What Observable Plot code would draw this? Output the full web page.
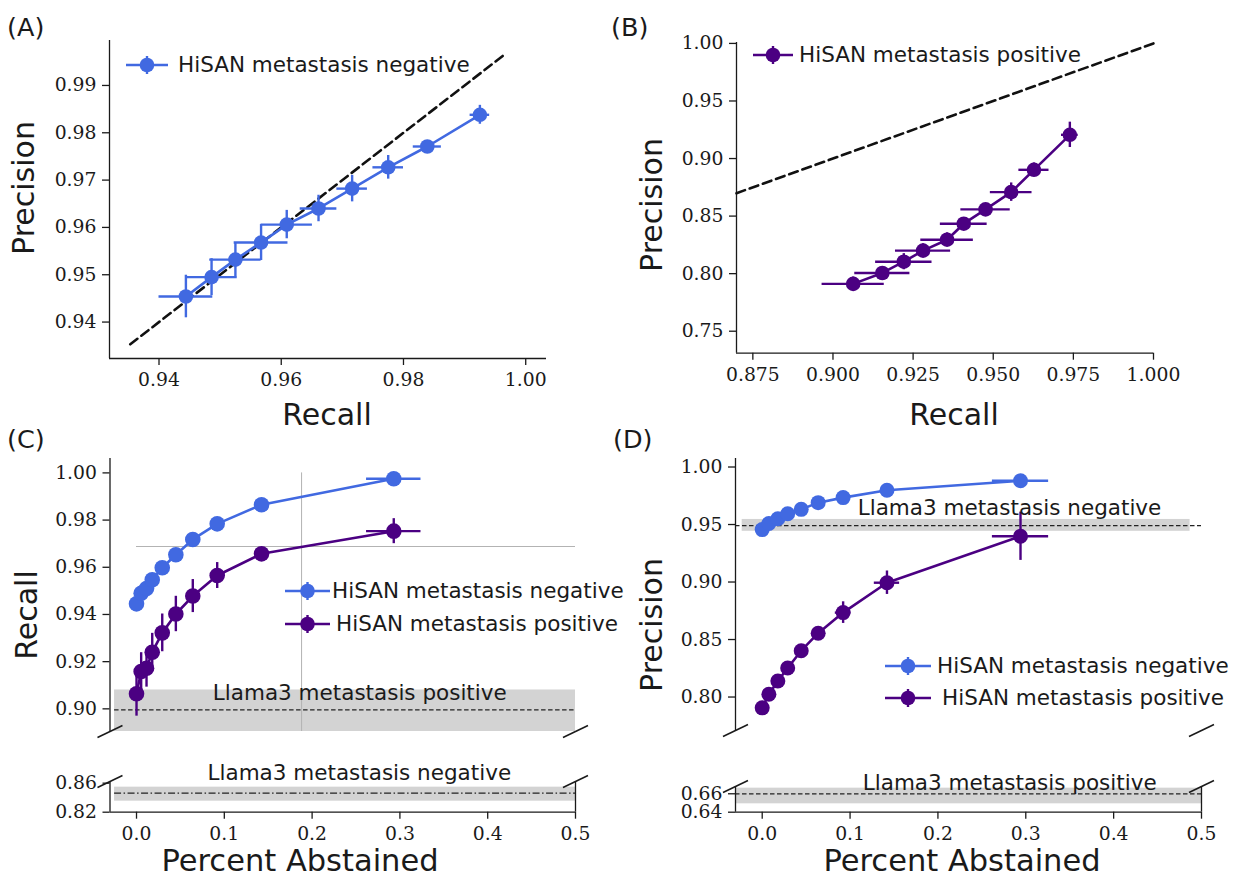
<!DOCTYPE html>
<html><head><meta charset="utf-8">
<script src="https://cdn.jsdelivr.net/npm/d3@7"></script>
<script src="https://cdn.jsdelivr.net/npm/@observablehq/plot@0.6"></script>
<style>
html,body{margin:0;padding:0;background:#fff;}
#fig{position:relative;width:1233px;height:879px;overflow:hidden;font-family:"DejaVu Sans";color:#1a1a1a;background:#fff;}
#fig svg{position:absolute;overflow:visible;}
.lbl{position:absolute;white-space:nowrap;transform:translate(-50%,-50%);font-size:30px;line-height:1;}
.big{font-size:30.5px;}
.vlbl{transform:translate(-50%,-50%) rotate(-90deg);}
.letter{position:absolute;font-size:25.5px;line-height:1;transform:translateY(-50%);}
.legtxt{position:absolute;font-size:21.5px;white-space:nowrap;line-height:1;transform:translateY(-50%);}
</style></head><body><div id="fig"></div>
<script>
const BLUE = "#4169E1", PURPLE = "#4B0082", BAND = "#d3d3d3", INK = "#1a1a1a";

// ---------- Panel A: HiSAN metastasis negative ----------
const aRecall       = [0.9444,0.9486,0.9525,0.9567,0.9609,0.9661,0.9716,0.9775,0.9839,0.9925];
const aPrecision    = [0.9454,0.9495,0.9532,0.9568,0.9606,0.9640,0.9682,0.9727,0.9771,0.9838];
const aRecallErr    = [0.0044,0.0042,0.0042,0.0044,0.0042,0.0030,0.0025,0.0025,0.0023,0.0016];
const aPrecisionErr = [0.0045,0.0039,0.0036,0.0038,0.0030,0.0028,0.0028,0.0025,0.0012,0.0020];
const aDiagonal     = [0.9353, 0.9967];
const aXTicks = [0.94,0.96,0.98,1.00];
const aYTicks = [0.94,0.95,0.96,0.97,0.98,0.99];

// ---------- Panel B: HiSAN metastasis positive ----------
const bRecall       = [0.9063,0.9154,0.9221,0.9281,0.9356,0.9408,0.9476,0.9556,0.9627,0.9739];
const bPrecision    = [0.7911,0.8006,0.8104,0.8200,0.8295,0.8434,0.8558,0.8708,0.8902,0.9206];
const bRecallErr    = [0.0097,0.0086,0.0088,0.0086,0.0082,0.0073,0.0077,0.0065,0.0047,0.0026];
const bPrecisionErr = [0.0060,0.0050,0.0070,0.0060,0.0060,0.0050,0.0030,0.0080,0.0060,0.0110];
const bDiagonal     = [0.8699, 1.0];
const bXTicks = [0.875,0.900,0.925,0.950,0.975,1.000];
const bYTicks = [0.75,0.80,0.85,0.90,0.95,1.00];

// ---------- Panel C: recall vs percent abstained ----------
const cAbstained    = [0,0.0053,0.0114,0.0179,0.0293,0.0448,0.0641,0.0919,0.1424,0.2930];
const cAbstainedErr = [0.001,0.002,0.002,0.002,0.002,0.002,0.003,0.004,0.007,0.031];
const cRecallNeg    = [0.9445,0.9490,0.9510,0.9547,0.9598,0.9653,0.9718,0.9784,0.9865,0.9975];
const cRecallNegErr = [0.0025,0.0020,0.0020,0.0015,0.0015,0.0015,0.0015,0.0015,0.0010,0.0010];
const cRecallPos    = [0.9064,0.9158,0.9172,0.9240,0.9322,0.9402,0.9478,0.9565,0.9657,0.9753];
const cRecallPosErr = [0.0095,0.0080,0.0080,0.0080,0.0080,0.0075,0.0070,0.0055,0.0025,0.0053];
const cLlamaPos     = {value: 0.8996, lo: 0.889, hi: 0.908, x1: -0.025, x2: 0.5};
const cLlamaNeg     = {value: 0.8462, lo: 0.8352, hi: 0.8545, x1: -0.025, x2: 0.5};
const cGuideX = 0.188, cGuideY = 0.9688;
const cTopYTicks = [0.90,0.92,0.94,0.96,0.98,1.00];
const cBotYTicks = [0.82,0.86];
const abstTicks  = [0,0.1,0.2,0.3,0.4,0.5];

// ---------- Panel D: precision vs percent abstained ----------
const dAbstained       = [0,0.0076,0.0178,0.0290,0.0444,0.0637,0.0921,0.1420,0.2940];
const dAbstainedNegErr = [0.001,0.001,0.001,0.002,0.002,0.002,0.003,0.004,0.032];
const dAbstainedPosErr = [0.001,0.001,0.002,0.002,0.002,0.003,0.0089,0.0144,0.032];
const dPrecisionNeg    = [0.9456,0.9509,0.9550,0.9594,0.9632,0.9690,0.9734,0.9798,0.9880];
const dPrecisionNegErr = [0.0010,0.0010,0.0010,0.0010,0.0010,0.0010,0.0010,0.0010,0.0010];
const dPrecisionPos    = [0.7906,0.8024,0.8140,0.8252,0.8403,0.8555,0.8734,0.8994,0.9398];
const dPrecisionPosErr = [0.003,0.003,0.003,0.003,0.003,0.003,0.0094,0.0102,0.021];
const dLlamaNeg     = {value: 0.9491, lo: 0.9441, hi: 0.9544, x1: -0.0228, x2: 0.487};
const dLlamaPos     = {value: 0.6600, lo: 0.6491, hi: 0.6661, x1: -0.0304, x2: 0.5};
const dTopYTicks = [0.80,0.85,0.90,0.95,1.00];
const dBotYTicks = [0.64,0.66];

const labelTexts = {
  neg: "HiSAN metastasis negative", pos: "HiSAN metastasis positive",
  llamaNeg: "Llama3 metastasis negative", llamaPos: "Llama3 metastasis positive"
};

// ---------- helpers ----------
const fig = document.getElementById("fig");
const rowsOf = (xs, ys, xe, ye) => xs.map((x, i) => ({x, y: ys[i], xe: xe[i], ye: ye[i]}));

function series(rows, color, r = 7.5) {
  return [
    Plot.line(rows, {x: "x", y: "y", stroke: color, strokeWidth: 2.6}),
    Plot.ruleY(rows, {y: "y", x1: d => d.x - d.xe, x2: d => d.x + d.xe, stroke: color, strokeWidth: 2.4}),
    Plot.ruleX(rows, {x: "x", y1: d => d.y - d.ye, y2: d => d.y + d.ye, stroke: color, strokeWidth: 2.4}),
    Plot.dot(rows, {x: "x", y: "y", r, fill: color, stroke: "none"})
  ];
}
function spines(xd, yd, which) {
  const m = [];
  const s = {stroke: INK, strokeWidth: 1.3};
  if (which.includes("l")) m.push(Plot.ruleX([xd[0]], s));
  if (which.includes("r")) m.push(Plot.ruleX([xd[1]], s));
  if (which.includes("b")) m.push(Plot.ruleY([yd[0]], s));
  return m;
}
function breaks(xd, yd, fw, fh, atTop) {
  const hx = 12.5 * (xd[1] - xd[0]) / fw, hy = 6 * (yd[1] - yd[0]) / fh;
  const y = atTop ? yd[1] : yd[0];
  return Plot.link([xd[0], xd[1]], {x1: d => d - hx, x2: d => d + hx, y1: y - hy, y2: y + hy, stroke: INK, strokeWidth: 1.5, clip: false});
}
const style = {background: "none", fontFamily: "DejaVu Serif", fontSize: "18.8px", color: INK, overflow: "visible"};
const axY = (ticks, fmt) => Plot.axisY({ticks, tickFormat: d3.format(fmt), tickSize: 7, tickPadding: 6, label: null, strokeWidth: 1.3});
const axX = (ticks, fmt) => Plot.axisX({ticks, tickFormat: d3.format(fmt), tickSize: 7, tickPadding: 7, label: null, strokeWidth: 1.3});
const txt = (x, y, t) => Plot.text([{x, y, t}], {x: "x", y: "y", text: "t", fontFamily: "DejaVu Sans", fontSize: 21.5, fill: INK});
function band(b) {
  return [
    Plot.rect([b], {x1: "x1", x2: "x2", y1: "lo", y2: "hi", fill: BAND, clip: true})
  ];
}
function mount(svg, left, top) { svg.style.left = left + "px"; svg.style.top = top + "px"; fig.appendChild(svg); }

function panel({left, top, width, height, frame, xd, yd, marks, xAxis = true}) {
  const [fl, ft, fr, fb] = frame; // page pixel coordinates of frame edges
  const svg = Plot.plot({
    width, height,
    marginLeft: fl - left, marginTop: ft - top, marginRight: left + width - fr, marginBottom: top + height - fb,
    x: {domain: xd, ...(xAxis ? {} : {axis: null})},
    y: {domain: yd},
    style, marks
  });
  mount(svg, left, top);
}

// ---------- Panel A ----------
{
  const xd = [0.9319, 1.0034], yd = [0.9323, 0.9995];
  panel({left: 0, top: 0, width: 600, height: 440, frame: [109, 40, 546, 358], xd, yd, marks: [
    ...spines(xd, yd, "lb"),
    axY(aYTicks, ".2f"), axX(aXTicks, ".2f"),
    Plot.line(aDiagonal, {x: d => d, y: d => d, stroke: "#111", strokeWidth: 2.6, strokeDasharray: "9,5"}),
    ...series(rowsOf(aRecall, aPrecision, aRecallErr, aPrecisionErr), BLUE, 7.3)
  ]});
}
// ---------- Panel B ----------
{
  const xd = [0.8699, 1.0], yd = [0.7309, 1.0008];
  panel({left: 600, top: 0, width: 633, height: 440, frame: [736, 42, 1153, 352.7], xd, yd, marks: [
    ...spines(xd, yd, "lb"),
    axY(bYTicks, ".2f"), axX(bXTicks, ".3f"),
    Plot.line(bDiagonal, {x: d => d, y: d => d, stroke: "#111", strokeWidth: 2.6, strokeDasharray: "9,5"}),
    ...series(rowsOf(bRecall, bPrecision, bRecallErr, bPrecisionErr), PURPLE, 7.3)
  ]});
}
// ---------- Panel C top ----------
{
  const xd = [-0.0302, 0.5], yd = [0.8904, 1.0061];
  const f = [109.5, 458, 575, 731];
  panel({left: 0, top: 440, width: 616, height: 300, frame: f, xd, yd, xAxis: false, marks: [
    ...band(cLlamaPos),
    Plot.ruleY([cLlamaPos.value], {x1: cLlamaPos.x1, x2: cLlamaPos.x2, stroke: "#222", strokeWidth: 1.2, strokeDasharray: "4.5,2.5"}),
    Plot.ruleX([cGuideX], {y1: yd[0], y2: 1.0, stroke: "#b3b3b3", strokeWidth: 1}),
    Plot.ruleY([cGuideY], {x1: 0, x2: 0.5, stroke: "#b3b3b3", strokeWidth: 1}),
    ...spines(xd, yd, "l"),
    axY(cTopYTicks, ".2f"),
    breaks(xd, yd, f[2] - f[0], f[3] - f[1], false),
    ...series(rowsOf(cAbstained, cRecallNeg, cAbstainedErr, cRecallNegErr), BLUE, 7.8),
    ...series(rowsOf(cAbstained, cRecallPos, cAbstainedErr, cRecallPosErr), PURPLE, 7.8),
    txt(0.2543, 0.9065, labelTexts.llamaPos)
  ]});
}
// ---------- Panel C bottom ----------
{
  const xd = [-0.0302, 0.5], yd = [0.82, 0.8623];
  const f = [109.5, 781, 575, 811.7];
  panel({left: 0, top: 740, width: 616, height: 139, frame: f, xd, yd, marks: [
    ...band(cLlamaNeg),
    Plot.ruleY([cLlamaNeg.value], {x1: cLlamaNeg.x1, x2: cLlamaNeg.x2, stroke: "#222", strokeWidth: 1.2, strokeDasharray: "7,2.5,1.5,2.5"}),
    ...spines(xd, yd, "lrb"),
    axY(cBotYTicks, ".2f"), axX(abstTicks, ".1f"),
    breaks(xd, yd, f[2] - f[0], f[3] - f[1], true),
    txt(0.2538, 0.8738, labelTexts.llamaNeg)
  ]});
}
// ---------- Panel D top ----------
{
  const xd = [-0.0304, 0.5], yd = [0.7709, 1.0074];
  const f = [735, 458, 1201, 730];
  panel({left: 616, top: 440, width: 617, height: 300, frame: f, xd, yd, xAxis: false, marks: [
    ...band(dLlamaNeg),
    Plot.ruleY([dLlamaNeg.value], {stroke: "#222", strokeWidth: 1.2, strokeDasharray: "4.5,2.5"}),
    ...spines(xd, yd, "l"),
    axY(dTopYTicks, ".2f"),
    breaks(xd, yd, f[2] - f[0], f[3] - f[1], false),
    ...series(rowsOf(dAbstained, dPrecisionNeg, dAbstainedNegErr, dPrecisionNegErr), BLUE, 7.5),
    ...series(rowsOf(dAbstained, dPrecisionPos, dAbstainedPosErr, dPrecisionPosErr), PURPLE, 7.5),
    txt(0.2815, 0.9639, labelTexts.llamaNeg)
  ]});
}
// ---------- Panel D bottom ----------
{
  const xd = [-0.0304, 0.5], yd = [0.64, 0.6679];
  const f = [735, 786, 1201, 811.7];
  panel({left: 616, top: 740, width: 617, height: 139, frame: f, xd, yd, marks: [
    ...band(dLlamaPos),
    Plot.ruleY([dLlamaPos.value], {stroke: "#222", strokeWidth: 1.2, strokeDasharray: "4.5,2.5"}),
    ...spines(xd, yd, "lrb"),
    axY(dBotYTicks, ".2f"), axX(abstTicks, ".1f"),
    breaks(xd, yd, f[2] - f[0], f[3] - f[1], true),
    txt(0.2817, 0.6715, labelTexts.llamaPos)
  ]});
}

// ---------- HTML text: panel letters, axis labels, legends ----------
function addDiv(cls, text, left, top) {
  const d = document.createElement("div");
  d.className = cls; d.textContent = text;
  d.style.left = left + "px"; d.style.top = top + "px";
  fig.appendChild(d);
}
[["(A)", 7, 28], ["(B)", 611, 28], ["(C)", 7, 440], ["(D)", 613, 440]].forEach(([t, x, y]) => addDiv("letter", t, x, y));
[["Precision", 24, 188, "lbl vlbl"], ["Recall", 327, 415, "lbl"],
 ["Precision", 652, 205, "lbl vlbl"], ["Recall", 954, 415, "lbl"],
 ["Recall", 27, 615, "lbl vlbl"], ["Percent Abstained", 300, 861, "lbl big"],
 ["Precision", 652, 625, "lbl vlbl"], ["Percent Abstained", 962, 861, "lbl big"]]
 .forEach(([t, x, y, c]) => addDiv(c, t, x, y));

function legendEntry(cx, cy, w, color, text, textLeft) {
  const ns = "http://www.w3.org/2000/svg";
  const s = document.createElementNS(ns, "svg");
  s.setAttribute("width", w + 4); s.setAttribute("height", 24);
  s.style.left = (cx - w / 2 - 2) + "px"; s.style.top = (cy - 12) + "px";
  s.innerHTML = `<line x1="2" x2="${w + 2}" y1="12" y2="12" stroke="${color}" stroke-width="2.6"/>
    <line x1="${w / 2 + 2}" x2="${w / 2 + 2}" y1="3" y2="21" stroke="${color}" stroke-width="2.4"/>
    <circle cx="${w / 2 + 2}" cy="12" r="7.3" fill="${color}"/>`;
  fig.appendChild(s);
  addDiv("legtxt", text, textLeft, cy);
}
legendEntry(147, 65, 42, BLUE, labelTexts.neg, 178);
legendEntry(773, 55, 40, PURPLE, labelTexts.pos, 799);
legendEntry(307.5, 590.7, 45, BLUE, labelTexts.neg, 332);
legendEntry(307.5, 624, 45, PURPLE, labelTexts.pos, 336);
legendEntry(908, 666, 46, BLUE, labelTexts.neg, 937);
legendEntry(908, 698.3, 46, PURPLE, labelTexts.pos, 942);
</script></body></html>
